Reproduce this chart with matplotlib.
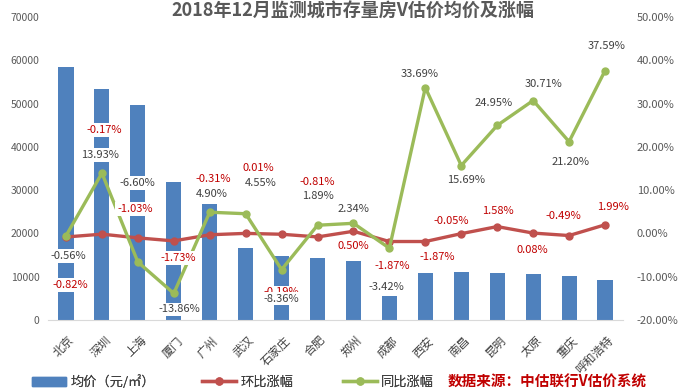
import matplotlib
matplotlib.use("Agg")
import matplotlib.pyplot as plt
from matplotlib.patches import Patch
from matplotlib.lines import Line2D
from matplotlib.ticker import FuncFormatter, MultipleLocator

plt.rcParams['font.family'] = ['Noto Sans CJK SC', 'DejaVu Sans']

# data
cities = ['北京', '深圳', '上海', '厦门', '广州', '武汉', '石家庄', '合肥',
          '郑州', '成都', '西安', '南昌', '昆明', '太原', '重庆', '呼和浩特']
avgPrice = [58400, 53470, 49780, 31770, 26770, 16690, 14840, 14380,
            13620, 5620, 10920, 11150, 10920, 10540, 10080, 9160]
momChange = [-0.82, -0.17, -1.03, -1.73, -0.31, 0.01, -0.19, -0.81,
             0.50, -1.87, -1.87, -0.05, 1.58, 0.08, -0.49, 1.99]
yoyChange = [-0.56, 13.93, -6.60, -13.86, 4.90, 4.55, -8.36, 1.89,
             2.34, -3.42, 33.69, 15.69, 24.95, 30.71, 21.20, 37.59]
legendLabels = ['均价（元/㎡）', '环比涨幅', '同比涨幅']

# label offsets in pixels (dx, dy) as placed in the original workbook
momOffsets = [(4, -48), (2, 104), (-3, 29), (4, -17), (4, 56), (13, 65), (0, -58), (0, 55),
              (0, -15), (3, -24), (12, -15), (-10, 13), (1, 16), (-1, -17), (-6, 20), (8, 18)]
yoyOffsets = [(2, -20), (-2, 18), (0, 79), (6, -16), (2, 18), (15, 31), (0, -29), (0, 29),
              (0, 14), (-3, -39), (-6, 14), (5, -14), (-4, 22), (10, 17), (1, -20), (2, 25)]

BLUE = '#4f81bd'
RED = '#c0504d'
GREEN = '#9bbb59'
GRAY = '#595959'

fig, ax = plt.subplots(figsize=(6.87, 3.92), dpi=100)
fig.subplots_adjust(left=0.0699, right=0.9068, top=0.9566, bottom=0.1837)

x = list(range(len(cities)))
ax.bar(x, avgPrice, width=0.42, color=BLUE, zorder=2)
ax.set_xlim(-0.5, len(cities) - 0.5)
ax.set_ylim(0, 70000)
ax.yaxis.set_major_locator(MultipleLocator(10000))
ax.set_xticks(x)
ax.set_xticklabels([])
# category names hang below the axis, rotated like the Excel labels
for i, name in enumerate(cities):
    ax.annotate(name, (i, 0), xycoords=('data', 'axes fraction'), xytext=(2, -14),
                textcoords='offset pixels', rotation=45, rotation_mode='anchor',
                ha='right', va='top', fontsize=8.5, color='#404040')
ax.tick_params(axis='y', length=0, labelsize=7.5, labelcolor=GRAY, pad=6)
ax.tick_params(axis='x', length=0)
for side in ['top', 'left', 'right']:
    ax.spines[side].set_visible(False)
ax.spines['bottom'].set_color('#d9d9d9')

ax2 = ax.twinx()
ax2.plot(x, momChange, color=RED, lw=2.4, marker='o', ms=5, zorder=3)
ax2.plot(x, yoyChange, color=GREEN, lw=2.4, marker='o', ms=5, zorder=3)
ax2.set_ylim(-20, 50)
ax2.yaxis.set_major_locator(MultipleLocator(10))
ax2.yaxis.set_major_formatter(FuncFormatter(lambda v, p: '%.2f%%' % v))
ax2.tick_params(axis='y', length=0, labelsize=8, labelcolor=GRAY, pad=10)
for side in ['top', 'left', 'right', 'bottom']:
    ax2.spines[side].set_visible(False)

box = dict(boxstyle='square,pad=0.15', fc='white', ec='none')
for i, v in enumerate(momChange):
    ax2.annotate('%.2f%%' % v, (i, v), xytext=momOffsets[i], textcoords='offset pixels',
                 ha='center', va='center', fontsize=8, color='#c00000', bbox=box, zorder=5)
for i, v in enumerate(yoyChange):
    ax2.annotate('%.2f%%' % v, (i, v), xytext=yoyOffsets[i], textcoords='offset pixels',
                 ha='center', va='center', fontsize=8, color='#404040', bbox=box, zorder=6)

fig.suptitle('2018年12月监测城市存量房V估价均价及涨幅', x=0.514, y=0.995,
             fontsize=13, fontweight='bold', color=GRAY)

# legend entries placed one by one like the original
handles = [Patch(color=BLUE),
           Line2D([], [], color=RED, lw=2.4, marker='o', ms=5),
           Line2D([], [], color=GREEN, lw=2.4, marker='o', ms=5)]
legendX = [20, 190, 331]
legendY = 1 - 382 / 392
for h, lab, lx in zip(handles, legendLabels, legendX):
    leg = fig.legend([h], [lab], frameon=False, loc='center left',
                     bbox_to_anchor=(lx / 687, legendY), fontsize=9.5,
                     handlelength=2.6, handletextpad=0.3, labelcolor='#404040')
    fig.add_artist(leg)
fig.text(448 / 687, legendY, '数据来源：中估联行V估价系统', ha='left', va='center',
         fontsize=10.5, color='#c00000', fontweight='bold', style='italic')

fig.savefig('out.png', dpi=100)
